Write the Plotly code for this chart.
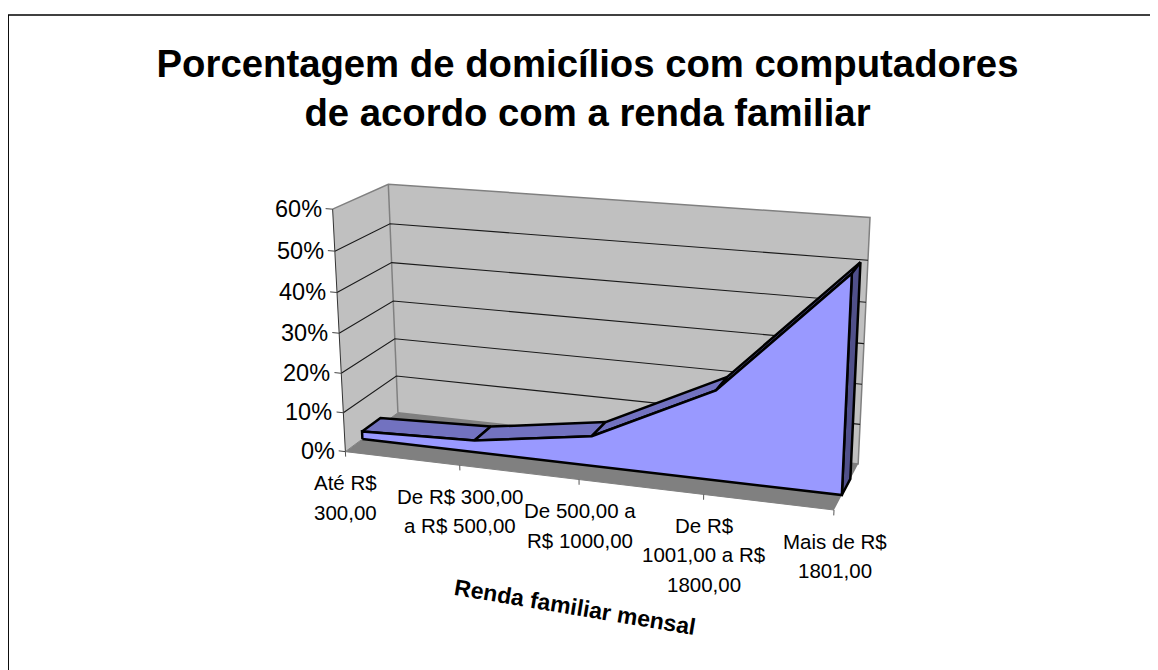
import numpy as np
import plotly.graph_objects as go

TITLE = "<b>Porcentagem de domicílios com computadores<br>de acordo com a renda familiar</b>"
X_TITLE = "Renda familiar mensal"
CATEGORIES = [["Até R$", "300,00"],
              ["De R$ 300,00", "a R$ 500,00"],
              ["De 500,00 a", "R$ 1000,00"],
              ["De R$", "1001,00 a R$", "1800,00"],
              ["Mais de R$", "1801,00"]]
VALUES = [2, 3, 7.5, 22, 52]
Y_TICKS = [0, 10, 20, 30, 40, 50, 60]
Y_LABELS = ["0%", "10%", "20%", "30%", "40%", "50%", "60%"]

# calibration of the oblique perspective box: (category, depth, percent) -> page pixel
CAL = [((0, 0, 0), (345, 451.7)), ((1, 0, 0), (460, 466)), ((2, 0, 0), (579, 480)),
       ((3, 0, 0), (703, 494)), ((4, 0, 0), (834.3, 510)),
       ((0, 1, 0), (398.3, 412.3)), ((4, 1, 0), (858.3, 463.3)),
       ((0, 0, 60), (333.3, 209.3)), ((0, 1, 60), (387.7, 184)), ((4, 1, 60), (870, 217.3)),
       ((0, 0, 30), (339, 332.3)), ((0, 1, 30), (393.3, 301.7)), ((4, 1, 30), (864, 344.3))]
A = []
for (a, b, c), (u, v) in CAL:
    s = [a, b, c, 1]
    A.append(s + [0] * 4 + [-u * t for t in s])
    A.append([0] * 4 + s + [-v * t for t in s])
P = np.linalg.svd(np.array(A, float))[2][-1].reshape(3, 4)


def proj(c, d, z):
    h = P @ np.array([c, d, z, 1.0])
    return h[0] / h[2], h[1] / h[2]


def poly(fig, pts, fill=None, line=None, width=1):
    xy = [proj(*p) for p in pts]
    fig.add_trace(go.Scatter(
        x=[q[0] for q in xy], y=[q[1] for q in xy], mode="lines",
        fill="toself" if fill else None, fillcolor=fill,
        line=dict(color=line or fill, width=width if line else 0),
        hoverinfo="skip", showlegend=False))


fig = go.Figure()
n = len(VALUES) - 1
WALL, FLOOR, EDGE = "#C0C0C0", "#808080", "#808080"
poly(fig, [(0, 0, 0), (0, 1, 0), (0, 1, 60), (0, 0, 60), (0, 0, 0)], WALL)
poly(fig, [(0, 1, 0), (n, 1, 0), (n, 1, 60), (0, 1, 60), (0, 1, 0)], WALL)
poly(fig, [(0, 0, 0), (n, 0, 0), (n, 1, 0), (0, 1, 0), (0, 0, 0)], FLOOR)
# wall edges
poly(fig, [(0, 0, 60), (0, 1, 60), (n, 1, 60), (n, 1, 0), (0, 1, 0)], line=EDGE, width=1.5)
poly(fig, [(0, 1, 0), (0, 1, 60)], line=EDGE, width=1.5)
poly(fig, [(0, 0, 0), (0, 1, 0)], line=EDGE, width=1)
# gridlines
for t in Y_TICKS[1:-1]:
    poly(fig, [(0, 0, t), (0, 1, t), (n, 1, t)], line="#1a1a1a", width=1.1)
# axis lines and ticks
poly(fig, [(0, 0, 0), (0, 0, 60)], line="#333333", width=1)
poly(fig, [(0, 0, 0), (n, 0, 0)], line="#808080", width=1)
for t in Y_TICKS:
    poly(fig, [(-0.06, 0, t), (0, 0, t)], line="#444444", width=1)
for i in range(n + 1):
    poly(fig, [(i, 0, 0), (i, 0, -1.3)], line="#555555", width=1)

# area series: depth band of the 3-D area
D0, D1 = 0.31, 0.66
for i in range(n):
    poly(fig, [(i, D0, VALUES[i]), (i + 1, D0, VALUES[i + 1]), (i + 1, D1, VALUES[i + 1]),
               (i, D1, VALUES[i]), (i, D0, VALUES[i])], "#7272C0", "#000000", 2.5)
poly(fig, [(n, D0, 0), (n, D1, 0), (n, D1, VALUES[n]), (n, D0, VALUES[n]), (n, D0, 0)],
     "#50508A", "#000000", 2.5)
front = [(0, D0, 0), (n, D0, 0)] + [(i, D0, VALUES[i]) for i in range(n, -1, -1)] + [(0, D0, 0)]
poly(fig, front, "#9999FF", "#000000", 2.5)

ann = []
for t, s in zip(Y_TICKS, Y_LABELS):
    x, y = proj(-0.03, 0, t)
    ann.append(dict(x=x - 5.5, y=y, text=s, xanchor="right", yanchor="middle", showarrow=False,
                    font=dict(size=23.5)))
for i, lines in enumerate(CATEGORIES):
    x, y = proj(i, 0, 0)
    for k, s in enumerate(lines):
        ann.append(dict(x=x + 0.5, y=y + 31 + 29.5 * k, text=s, xanchor="center", yanchor="middle",
                        showarrow=False, font=dict(size=20.5)))
ann.append(dict(x=575, y=607, text="<b>" + X_TITLE + "</b>", textangle=9.5, showarrow=False,
                xanchor="center", yanchor="middle", font=dict(size=23)))

fig.update_layout(
    width=1150, height=662, margin=dict(l=0, r=0, t=0, b=0),
    paper_bgcolor="white", plot_bgcolor="white", showlegend=False,
    font=dict(family="Liberation Sans, Arial, sans-serif", color="#000000"),
    title=dict(text=TITLE, x=(587.5 - 8) / 1150, xanchor="center", y=1 - (76.7 - 8) / 662, yanchor="middle",
               font=dict(size=38.3, color="#000000")),
    xaxis=dict(range=[8, 1158], visible=False, fixedrange=True),
    yaxis=dict(range=[670, 8], visible=False, fixedrange=True),
    annotations=ann,
    shapes=[dict(type="line", xref="x", yref="y", x0=7.5, x1=1158, y0=15, y1=15,
                 line=dict(color="#000000", width=1.5)),
            dict(type="line", xref="x", yref="y", x0=8.2, x1=8.2, y0=15, y1=670,
                 line=dict(color="#000000", width=1.5))],
)
fig.write_html("out.html", config=dict(displayModeBar=False))
